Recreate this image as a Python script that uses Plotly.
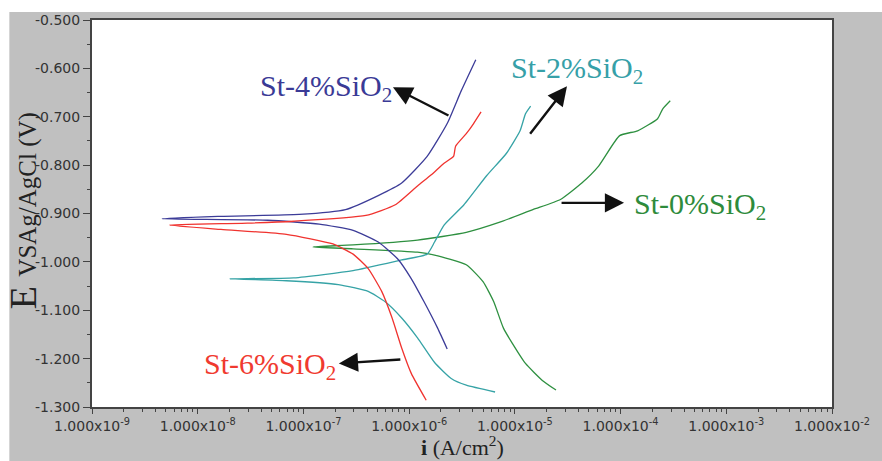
import plotly.graph_objects as go

# ---- data (current density A/cm^2, potential V vs Ag/AgCl) ----
i_4 = [2.29e-6, 1.86e-6, 1.38e-6, 1.05e-6, 7.8e-7, 5.1e-7, 2.95e-7, 1.41e-7, 4.6e-8, 4.6e-9,
       1.55e-8, 9.1e-8, 2.5e-7, 5.1e-7, 8.5e-7, 1.48e-6, 2.29e-6, 3.1e-6, 4.27e-6]
E_4 = [-1.180, -1.137, -1.082, -1.035, -0.994, -0.959, -0.935, -0.922, -0.914, -0.911,
       -0.906, -0.902, -0.892, -0.863, -0.837, -0.782, -0.714, -0.647, -0.582]

i_6 = [1.45e-6, 1.05e-6, 8.5e-7, 6.9e-7, 5.5e-7, 4.1e-7, 2.95e-7, 1.9e-7, 6.9e-8, 1.66e-8, 5.4e-9,
       2.95e-8, 8.1e-8, 3.9e-7, 7.4e-7, 1.2e-6, 1.62e-6, 2.14e-6, 2.63e-6, 2.75e-6, 3.47e-6, 4.07e-6, 4.79e-6]
E_6 = [-1.286, -1.231, -1.178, -1.116, -1.061, -1.014, -0.984, -0.963, -0.943, -0.933, -0.924,
       -0.920, -0.916, -0.904, -0.882, -0.843, -0.820, -0.796, -0.782, -0.761, -0.735, -0.714, -0.690]

i_2 = [6.5e-6, 3.47e-6, 2.5e-6, 1.74e-6, 1.2e-6, 8.5e-7, 5.9e-7, 4.1e-7, 2.14e-7, 6.9e-8, 2.0e-8,
       8.1e-8, 2.95e-7, 8.5e-7, 1.48e-6, 1.74e-6, 2.14e-6, 3.3e-6, 5.4e-6, 8.3e-6, 1.12e-5, 1.26e-5, 1.41e-5]
E_2 = [-1.269, -1.255, -1.241, -1.208, -1.157, -1.116, -1.082, -1.061, -1.047, -1.039, -1.035,
       -1.033, -1.018, -0.996, -0.984, -0.959, -0.924, -0.882, -0.822, -0.776, -0.729, -0.694, -0.678]

i_0 = [2.45e-5, 1.82e-5, 1.26e-5, 9.5e-6, 7.8e-6, 6.3e-6, 5.0e-6, 3.47e-6, 1.74e-6, 1.2e-6, 2.95e-7, 1.23e-7,
       2.95e-7, 1.2e-6, 3.47e-6, 7.2e-6, 1.48e-5, 2.7e-5, 4.3e-5, 6.2e-5, 9.8e-5, 1.45e-4, 2.24e-4, 2.5e-4, 2.95e-4]
E_0 = [-1.265, -1.245, -1.210, -1.169, -1.137, -1.082, -1.041, -1.006, -0.986, -0.980, -0.973, -0.969,
       -0.965, -0.955, -0.939, -0.918, -0.892, -0.871, -0.837, -0.802, -0.739, -0.729, -0.704, -0.684, -0.667]

x_tickvals = [1e-9, 1e-8, 1e-7, 1e-6, 1e-5, 1e-4, 1e-3, 1e-2]
x_ticktext = ["1.000x10<sup>-9</sup>", "1.000x10<sup>-8</sup>", "1.000x10<sup>-7</sup>",
              "1.000x10<sup>-6</sup>", "1.000x10<sup>-5</sup>", "1.000x10<sup>-4</sup>",
              "1.000x10<sup>-3</sup>", "1.000x10<sup>-2</sup>"]
y_tickvals = [-0.5, -0.6, -0.7, -0.8, -0.9, -1.0, -1.1, -1.2, -1.3]
y_ticktext = ["-0.500", "-0.600", "-0.700", "-0.800", "-0.900", "-1.000", "-1.100", "-1.200", "-1.300"]

series = [
    ("St-0%SiO2", i_0, E_0, "#2e9040"),
    ("St-2%SiO2", i_2, E_2, "#36a3a6"),
    ("St-4%SiO2", i_4, E_4, "#3c3c98"),
    ("St-6%SiO2", i_6, E_6, "#f0332f"),
]

fig = go.Figure()
for name, xs, ys, col in series:
    fig.add_trace(go.Scatter(x=xs, y=ys, mode="lines", name=name,
                             line=dict(color=col, width=1.3, shape="spline", smoothing=0.5),
                             showlegend=False))

fig.update_xaxes(type="log", range=[-9, -2], tickmode="array", tickvals=x_tickvals, ticktext=x_ticktext,
                 ticks="outside", ticklen=5, tickcolor="#444444", tickwidth=1,
                 minor=dict(ticks="outside", ticklen=3, dtick="D1", tickcolor="#444444", showgrid=False),
                 showline=True, linecolor="#444444", linewidth=2, mirror=True,
                 showgrid=False, zeroline=False,
                 tickfont=dict(family="DejaVu Sans", size=14, color="#333333"))
fig.update_yaxes(range=[-1.3, -0.5], tickmode="array", tickvals=y_tickvals, ticktext=y_ticktext,
                 ticks="outside", ticklen=7, tickcolor="#444444", tickwidth=1,
                 minor=dict(ticks="outside", ticklen=3, dtick=0.05, tick0=-0.5, tickcolor="#444444", showgrid=False),
                 showline=True, linecolor="#444444", linewidth=2, mirror=True,
                 showgrid=False, zeroline=False,
                 tickfont=dict(family="DejaVu Sans", size=14, color="#333333"))

lab_font = "Liberation Serif"
ann = []
# curve labels
ann.append(dict(x=-6.786, y=-0.641, xref="x", yref="y", text="St-4%SiO<sub>2</sub>", showarrow=False,
                font=dict(family=lab_font, size=30, color="#3a3a96")))
ann.append(dict(x=-4.414, y=-0.604, xref="x", yref="y", text="St-2%SiO<sub>2</sub>", showarrow=False,
                font=dict(family=lab_font, size=30, color="#36a0a8")))
ann.append(dict(x=-3.251, y=-0.884, xref="x", yref="y", text="St-0%SiO<sub>2</sub>", showarrow=False,
                font=dict(family=lab_font, size=30, color="#2e8b3c")))
ann.append(dict(x=-7.316, y=-1.216, xref="x", yref="y", text="St-6%SiO<sub>2</sub>", showarrow=False,
                font=dict(family=lab_font, size=30, color="#f03a30")))
# arrows
for hx, hy, axp, ayp in [(-6.153, -0.639, 57, 29), (-4.507, -0.637, -38, 49),
                         (-3.967, -0.878, -64, 0), (-6.665, -1.210, 63, -4)]:
    ann.append(dict(x=hx, y=hy, xref="x", yref="y", ax=axp, ay=ayp, text="", showarrow=True,
                    arrowhead=2, arrowsize=1.6, arrowwidth=2.4, arrowcolor="#111111"))
# axis titles
ann.append(dict(x=-0.093, y=0.506, xref="paper", yref="paper", textangle=-90, showarrow=False,
                xanchor="center", yanchor="middle",
                text="E <span style='font-size:25px'>VSAg/AgCl (V)</span>",
                font=dict(family=lab_font, size=38, color="#222222")))
ann.append(dict(x=0.5, y=-0.102, xref="paper", yref="paper", showarrow=False,
                xanchor="center", yanchor="middle",
                text="<b>i</b> (A/cm<sup>2</sup>)",
                font=dict(family=lab_font, size=22, color="#222222")))

# white strips at the top and left of the grey frame
shapes = [
    dict(type="rect", xref="paper", yref="paper", x0=-0.2, x1=-0.1117, y0=-0.5, y1=1.5,
         fillcolor="white", line=dict(width=0), layer="below"),
    dict(type="rect", xref="paper", yref="paper", x0=-0.2, x1=1.2, y0=1.0204, y1=1.5,
         fillcolor="white", line=dict(width=0), layer="below"),
]

fig.update_layout(width=882, height=461, margin=dict(l=92, r=38, t=15, b=54),
                  paper_bgcolor="#c0c0c0", plot_bgcolor="white",
                  annotations=ann, shapes=shapes, showlegend=False)

fig.write_html("out.html", config={"displayModeBar": False},
               post_script="document.body.style.margin='0';document.body.style.overflow='hidden';")
